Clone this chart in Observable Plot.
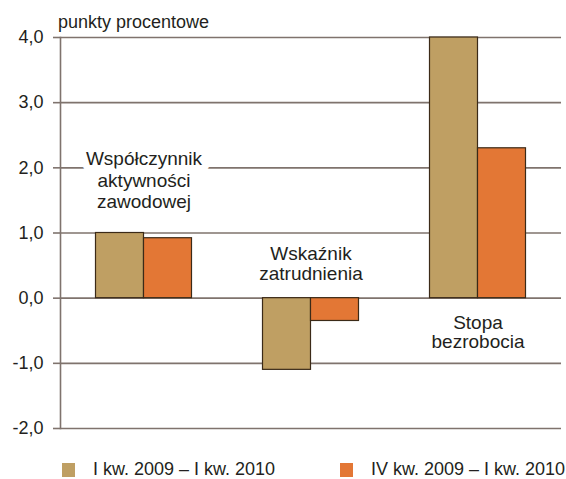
<!DOCTYPE html>
<html><head><meta charset="utf-8">
<script src="https://cdn.jsdelivr.net/npm/d3@7"></script>
<script src="https://cdn.jsdelivr.net/npm/@observablehq/plot@0.6"></script>
<style>
body{margin:0;background:#fff;font-family:"Liberation Sans",Arial,sans-serif;color:#231f20;}
#title{height:28px;padding-left:58px;font-size:18px;line-height:44px;overflow:visible;}
#legend{display:flex;align-items:center;padding-left:62px;margin-top:11px;font-size:18px;}
.item{display:flex;align-items:center;}
.sw{width:13px;height:14px;margin-right:18px;}
</style></head>
<body>
<div id="title">punkty procentowe</div>
<div id="chart"></div>
<div id="legend"></div>
<script>
const categories = ["Współczynnik aktywności zawodowej", "Wskaźnik zatrudnienia", "Stopa bezrobocia"];
const labelLines = ["Współczynnik\naktywności\nzawodowej", "Wskaźnik\nzatrudnienia", "Stopa\nbezrobocia"];
const labelSide = ["above", "above", "below"];
const seriesNames = ["I kw. 2009 – I kw. 2010", "IV kw. 2009 – I kw. 2010"];
const series1 = [1.0, -1.1, 4.0];
const series2 = [0.92, -0.35, 2.3];
const yTicks = [-2, -1, 0, 1, 2, 3, 4];
const colors = ["#bf9f63", "#e37735"];

const rows1 = categories.map((c, i) => ({cat: c, v: series1[i]}));
const rows2 = categories.map((c, i) => ({cat: c, v: series2[i]}));
const labels = categories.map((c, i) => {
  const vals = [series1[i], series2[i], 0];
  return {cat: c, text: labelLines[i], side: labelSide[i],
    y: labelSide[i] === "above" ? Math.max(...vals) : Math.min(...vals)};
});
const gridColor = "#7f736d";
const fmt = d => d.toFixed(1).replace(".", ",");
const textStyle = {x: "cat", y: "y", text: "text", fontSize: 19, fill: "#231f20"};

const chart = Plot.plot({
  width: 566, height: 420,
  marginTop: 9, marginBottom: 20, marginLeft: 60, marginRight: 5,
  style: {fontFamily: "Liberation Sans, Arial, sans-serif", color: "#231f20", background: "#fff"},
  x: {domain: categories, padding: 0, axis: null},
  y: {domain: [-2, 4], ticks: yTicks, tickFormat: fmt, label: null},
  marks: [
    Plot.ruleY(yTicks, {stroke: gridColor, strokeWidth: 1.6}),
    Plot.axisY({ticks: yTicks, tickFormat: fmt, tickSize: 7, tickPadding: 10, stroke: gridColor, strokeWidth: 1.6, strokeOpacity: 1, fontSize: 18, fill: "#231f20", label: null}),
    Plot.frame({anchor: "left", stroke: gridColor, strokeWidth: 1.6}),
    Plot.text(labels.slice(0, 1), {...textStyle, lineAnchor: "bottom", dy: -25, lineHeight: 1.12, stroke: "white", strokeWidth: 14}),
    Plot.text(labels.slice(1, 2), {...textStyle, lineAnchor: "bottom", dy: -18, lineHeight: 1.08}),
    Plot.text(labels.slice(2, 3), {...textStyle, lineAnchor: "top", dy: 17, lineHeight: 1.0}),
    Plot.barY(rows1, {x: "cat", y: "v", fill: colors[0], stroke: "#3b2a18", strokeWidth: 1.2, insetLeft: 35.5, insetRight: 83.5}),
    Plot.barY(rows2, {x: "cat", y: "v", fill: colors[1], stroke: "#3b2a18", strokeWidth: 1.2, insetLeft: 83.5, insetRight: 35.5})
  ]
});
document.getElementById("chart").appendChild(chart);

const legend = document.getElementById("legend");
seriesNames.forEach((n, i) => {
  const it = document.createElement("div");
  it.className = "item";
  if (i === 0) it.style.width = "278px";
  const sw = document.createElement("div");
  sw.className = "sw"; sw.style.background = colors[i];
  const t = document.createElement("span"); t.textContent = n;
  it.appendChild(sw); it.appendChild(t);
  legend.appendChild(it);
});
</script>
</body></html>
